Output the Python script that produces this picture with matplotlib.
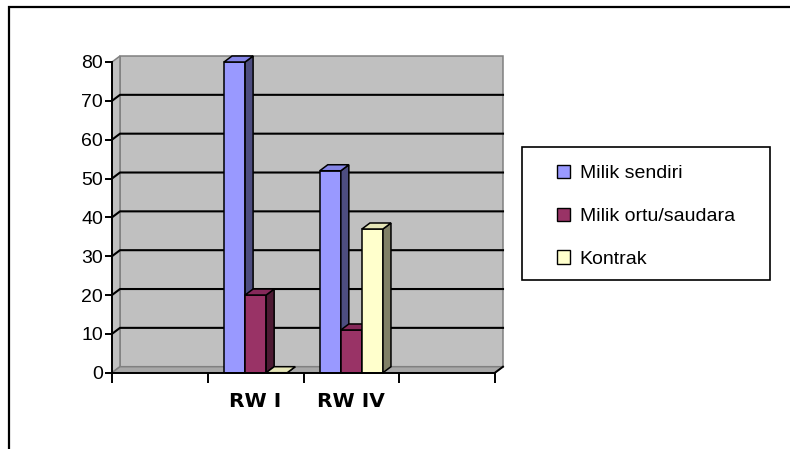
import matplotlib
matplotlib.use("Agg")
import matplotlib.pyplot as plt
from matplotlib.patches import Polygon, Rectangle, Patch
from matplotlib.lines import Line2D

# Data
categories = ["", "RW I", "RW IV", ""]
series_names = ["Milik sendiri", "Milik ortu/saudara", "Kontrak"]
milik_sendiri = [None, 80, 52, None]
milik_ortu = [None, 20, 11, None]
kontrak = [None, 0, 37, None]
y_ticks = [0, 10, 20, 30, 40, 50, 60, 70, 80]

series_values = [milik_sendiri, milik_ortu, kontrak]
front_colors = ["#9999FF", "#993366", "#FFFFCC"]
top_colors = ["#8585E6", "#86295A", "#E6E6B8"]
side_colors = ["#4D4D80", "#4D1A33", "#808066"]

plt.rcParams["font.family"] = ["Liberation Sans", "DejaVu Sans"]

W, H = 790, 449
fig = plt.figure(figsize=(W / 100, H / 100), dpi=100)

# axes placed in pixel terms
px_x = 95.75          # pixels per category
px_y = 310.7 / 80     # pixels per value unit
x_max = 4.1
y_max = 82
ax = fig.add_axes([112 / W, (H - 372.7) / H, x_max * px_x / W, y_max * px_y / H])
ax.set_xlim(0, x_max)
ax.set_ylim(0, y_max)
ax.patch.set_visible(False)

dx = 8 / px_x   # depth offset in x data units
dy = 6 / px_y   # depth offset in y data units
n_cat = len(categories)
top_val = y_ticks[-1]
lw = 1.1

wall_face = "#C0C0C0"
wall_edge = "#808080"

# back wall
ax.add_patch(Rectangle((dx, dy), n_cat, top_val, facecolor=wall_face,
                       edgecolor=wall_edge, lw=lw, zorder=1, clip_on=False))
# side wall
ax.add_patch(Polygon([(0, 0), (dx, dy), (dx, top_val + dy), (0, top_val)],
                     closed=True, facecolor=wall_face, edgecolor=wall_edge,
                     lw=lw, zorder=1, clip_on=False))
# floor
ax.add_patch(Polygon([(0, 0), (n_cat, 0), (n_cat + dx, dy), (dx, dy)],
                     closed=True, facecolor="#A8A8A8", edgecolor=wall_edge,
                     lw=lw, zorder=1.2, clip_on=False))

# gridlines on back and side wall
for v in y_ticks[1:-1]:
    ax.add_line(Line2D([0, dx, n_cat + dx], [v, v + dy, v + dy],
                       color="black", lw=1.5, zorder=1.5, clip_on=False))

# 3D bars
bar_w = 0.22
for ci in range(n_cat):
    for si, vals in enumerate(series_values):
        v = vals[ci]
        if v is None:
            continue
        x0 = ci + 0.5 + (si - 1) * bar_w - bar_w / 2
        x1 = x0 + bar_w
        ax.bar(x0, v, width=bar_w, align="edge", color=front_colors[si],
               edgecolor="black", lw=lw, zorder=3, clip_on=False)
        ax.add_patch(Polygon([(x1, 0), (x1 + dx, dy), (x1 + dx, v + dy), (x1, v)],
                             closed=True, facecolor=side_colors[si],
                             edgecolor="black", lw=lw, zorder=3, clip_on=False))
        ax.add_patch(Polygon([(x0, v), (x0 + dx, v + dy), (x1 + dx, v + dy), (x1, v)],
                             closed=True, facecolor=top_colors[si],
                             edgecolor="black", lw=lw, zorder=3, clip_on=False))

# axes lines and ticks
for s in ["top", "right"]:
    ax.spines[s].set_visible(False)
ax.spines["left"].set_bounds(0, top_val)
ax.spines["bottom"].set_bounds(0, n_cat)
for s in ["left", "bottom"]:
    ax.spines[s].set_linewidth(1.4)
    ax.spines[s].set_zorder(4)
ax.add_line(Line2D([n_cat, n_cat + dx], [0, dy], color="black", lw=1.4,
                   zorder=4, clip_on=False))

ax.set_yticks(y_ticks)
ax.set_yticklabels([str(t) for t in y_ticks])
ax.tick_params(axis="y", length=5, width=1.4, pad=1.5, labelsize=14)

ax.set_xticks([i + 0.5 for i in range(n_cat)])
ax.set_xticklabels(categories, fontweight="bold", fontsize=14.5,
                   family=["DejaVu Sans"])
ax.set_xticks(list(range(n_cat + 1)), minor=True)
ax.tick_params(axis="x", which="major", length=0, pad=14)
ax.tick_params(axis="x", which="minor", length=7, width=1.4)

# legend
handles = [Patch(facecolor=c, edgecolor="black", lw=1) for c in front_colors]
fig.legend(handles, series_names, loc="upper left",
           bbox_to_anchor=(557 / W, 1 - 165 / H), frameon=False,
           fontsize=14, handlelength=0.67, handleheight=0.67,
           handletextpad=0.5, labelspacing=1.3, borderpad=0, borderaxespad=0)
fig.add_artist(Rectangle((522 / W, 1 - 280 / H), 248 / W, 133 / H,
                         transform=fig.transFigure, facecolor="none",
                         edgecolor="black", lw=1.2))

# outer chart frame
fig.add_artist(Rectangle((9 / W, -0.05), 1.0, 1 - 7 / H + 0.05,
                         transform=fig.transFigure, facecolor="none",
                         edgecolor="black", lw=1.6))

fig.savefig("out.png", dpi=100)
